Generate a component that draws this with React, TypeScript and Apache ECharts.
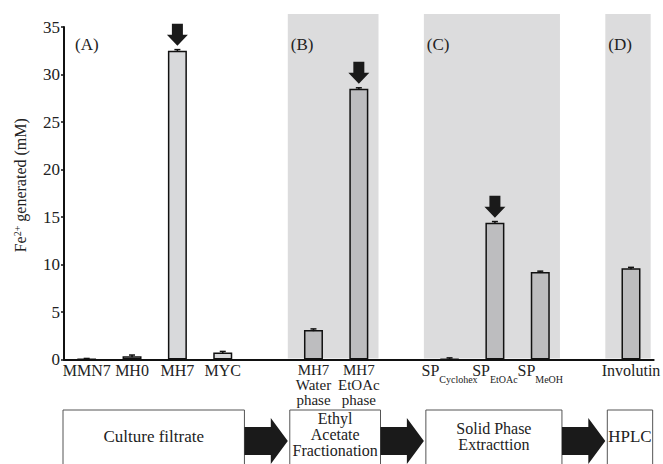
import React, { useEffect, useRef } from 'react';
import * as echarts from 'echarts';

const categories = ['MMN7', 'MH0', 'MH7', 'MYC', 'gap1', 'MH7 Water phase', 'MH7 EtOAc phase', 'gap2', 'SP Cyclohex', 'SP EtOAc', 'SP MeOH', 'gap3', 'Involutin'];
const tickLabels = [
  '{a|MMN7}', '{a|MH0}', '{a|MH7}', '{a|MYC}', '',
  '{m|MH7}\n{m|Water}\n{m|phase}', '{m|MH7}\n{m|EtOAc}\n{m|phase}', '',
  '{a|SP}{sub|Cyclohex}', '{a|SP}{sub|EtOAc}', '{a|SP}{sub|MeOH}', '',
  '{a|Involutin}',
];
const values = [0.03, 0.35, 32.5, 0.75, null, 3.1, 28.5, null, 0.05, 14.4, 9.2, null, 9.6];
const errors = [0.08, 0.12, 0.12, 0.1, null, 0.12, 0.1, null, 0.12, 0.12, 0.1, null, 0.1];
const groups = ['A', 'A', 'A', 'A', '', 'B', 'B', '', 'C', 'C', 'C', '', 'D'];
const highlighted = [false, false, true, false, false, false, true, false, false, true, false, false, false];
const panels = [
  { label: '(A)', from: 0, to: 3, shaded: false },
  { label: '(B)', from: 5, to: 6, shaded: true },
  { label: '(C)', from: 8, to: 10, shaded: true },
  { label: '(D)', from: 12, to: 12, shaded: true },
];
const steps = ['Culture filtrate', 'Ethyl\nAcetate\nFractionation', 'Solid Phase\nExtracttion', 'HPLC'];
const yMin = 0;
const yMax = 35;
const yInterval = 5;

const FONT = "'Liberation Serif', 'Times New Roman', Times, serif";
const TXT = '#222';

export default function App() {
  const ref = useRef<HTMLDivElement>(null);
  useEffect(() => {
    if (!ref.current) return;
    const chart = echarts.init(ref.current, undefined, { renderer: 'svg' });
    chart.setOption({
      animation: false,
      textStyle: { fontFamily: FONT },
      grid: { left: 61, right: 4, top: 27, bottom: 104.5 },
      xAxis: {
        type: 'category',
        data: categories,
        axisLine: { lineStyle: { color: '#111', width: 2 } },
        axisTick: { show: false },
        axisLabel: {
          interval: 0,
          margin: 3,
          formatter: (_v: string, i: number) => tickLabels[i],
          rich: {
            a: { fontFamily: FONT, fontSize: 16, lineHeight: 15, color: TXT, verticalAlign: 'top' },
            m: { fontFamily: FONT, fontSize: 15, lineHeight: 15, color: TXT },
            sub: { fontFamily: FONT, fontSize: 10, color: TXT, verticalAlign: 'top', padding: [12, 0, 0, 0] },
          },
        },
      },
      yAxis: {
        type: 'value',
        min: yMin,
        max: yMax,
        interval: yInterval,
        splitLine: { show: false },
        axisLine: { show: true, lineStyle: { color: '#111', width: 2 } },
        axisTick: { show: true, length: 3, lineStyle: { color: '#111', width: 1.5 } },
        axisLabel: { fontFamily: FONT, fontSize: 17, color: TXT, margin: 4 },
        name: '{a|Fe}{sup|2+}{a| generated (mM)}',
        nameLocation: 'middle',
        nameRotate: 90,
        nameGap: 36,
        nameTextStyle: {
          padding: [0, 0, 0, 16],
          rich: {
            a: { fontFamily: FONT, fontSize: 16, color: TXT, lineHeight: 16, padding: [4, 0, 0, 0], verticalAlign: 'bottom' },
            sup: { fontFamily: FONT, fontSize: 10, color: TXT, verticalAlign: 'top' },
          },
        },
      },
      series: [
        {
          type: 'bar',
          barWidth: 19,
          z: 2,
          itemStyle: { borderColor: '#111', borderWidth: 1.5 },
          data: values.map((v, i) =>
            v == null ? '-' : { value: v, itemStyle: { color: groups[i] === 'A' ? '#d8d9db' : '#bdbdbf' } }
          ),
        },
        {
          type: 'custom',
          z: 4,
          encode: { x: 0, y: 1 },
          data: values.map((v, i) => (v == null ? null : [i, v, errors[i]])).filter((d) => d != null),
          renderItem: (_p: any, api: any) => {
            const x = api.value(0);
            const v = api.value(1);
            const e = api.value(2);
            const hi = api.coord([x, v + e]);
            const lo = api.coord([x, Math.max(0, v - e)]);
            const hw = 3;
            const st = { stroke: '#111', lineWidth: 1.5 };
            return {
              type: 'group',
              children: [
                { type: 'line', shape: { x1: hi[0], y1: hi[1], x2: lo[0], y2: lo[1] }, style: st },
                { type: 'line', shape: { x1: hi[0] - hw, y1: hi[1], x2: hi[0] + hw, y2: hi[1] }, style: st },
              ],
            };
          },
        },
        {
          type: 'scatter',
          z: 5,
          symbol: 'path://M5,0 L16,0 L16,11 L21,11 L10.5,22 L0,11 L5,11 Z',
          symbolSize: [21, 22],
          symbolOffset: [0, -16],
          itemStyle: { color: '#1a1a1a', opacity: 1 },
          data: highlighted.map((h, i) => (h ? values[i] : '-')),
        },
      ],
    });

    const px = (i: number) => chart.convertToPixel({ xAxisIndex: 0 }, i) as number;
    const band = px(1) - px(0);
    const y0 = chart.convertToPixel({ yAxisIndex: 0 }, yMin) as number;
    const yTop = chart.convertToPixel({ yAxisIndex: 0 }, yMax) as number;
    const boxTop = y0 + 50.5;
    const elements: any[] = [];

    panels.forEach((p, k) => {
      const left = px(p.from) - band / 2;
      const right = px(p.to) + band / 2;
      if (p.shaded) {
        elements.push({
          type: 'rect',
          z: -10,
          shape: { x: left - 3, y: yTop - 13, width: right - left, height: y0 - (yTop - 13) - 1 },
          style: { fill: '#dcdcdd' },
        });
      }
      elements.push({
        type: 'text',
        z: 10,
        x: p.shaded ? left : left + 11,
        y: yTop + 17,
        style: { text: p.label, fontFamily: FONT, fontSize: 17, fill: TXT, verticalAlign: 'middle', align: 'left' },
      });
      const bl = left - 1;
      const br = right - 1;
      elements.push({
        type: 'rect',
        z: 10,
        shape: { x: bl, y: boxTop, width: br - bl, height: 80 },
        style: { fill: '#fff', stroke: '#555', lineWidth: 1 },
      });
      const lines = steps[k].split('\n').length;
      elements.push({
        type: 'text',
        z: 11,
        x: (bl + br) / 2,
        y: boxTop + (lines === 3 ? 24.5 : 26.5),
        style: {
          text: steps[k],
          fontFamily: FONT,
          fontSize: lines === 1 ? 17 : 16,
          lineHeight: 16,
          fill: TXT,
          align: 'center',
          verticalAlign: 'middle',
        },
      });
      if (k < panels.length - 1) {
        const next = panels[k + 1];
        const nl = px(next.from) - band / 2 - 1;
        const cy = boxTop + 31;
        const tip = nl - 2;
        const hb = tip - 17;
        elements.push({
          type: 'polygon',
          z: 10,
          shape: {
            points: [
              [br, cy - 14], [hb, cy - 14], [hb, cy - 23], [tip, cy],
              [hb, cy + 23], [hb, cy + 14], [br, cy + 14],
            ],
          },
          style: { fill: '#1a1a1a' },
        });
      }
    });

    chart.setOption({ graphic: { elements } });
    return () => chart.dispose();
  }, []);
  return <div ref={ref} style={{ position: 'fixed', left: 0, top: 0, width: 663, height: 464, background: '#fff' }} />;
}
